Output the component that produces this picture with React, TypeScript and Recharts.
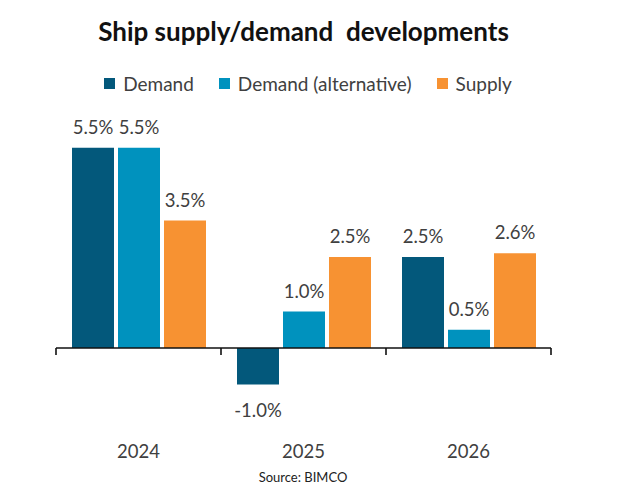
import { BarChart, Bar, XAxis, YAxis, ReferenceLine, LabelList } from "recharts";

const years = ["2024", "2025", "2026"];
const demand = [5.5, -1.0, 2.5];
const demandAlt = [5.5, 1.0, 0.5];
const supply = [3.5, 2.5, 2.6];

const seriesNames = ["Demand", "Demand (alternative)", "Supply"];
const colors = ["#03587B", "#0092BE", "#F79232"];

const data = years.map((year, i) => ({
  year,
  demand: demand[i],
  demandAlt: demandAlt[i],
  supply: supply[i],
}));

const FONT = "Lato, 'Noto Sans', sans-serif";
const TEXT = "#404040";

function BarLabel(props: any) {
  const x = Number(props.x);
  const y = Number(props.y);
  const width = Number(props.width);
  const height = Number(props.height);
  const value = Number(props.value);
  const top = Math.min(y, y + height);
  const bottom = Math.max(y, y + height);
  const cy = value >= 0 ? top - 21 : bottom + 26;
  return (
    <text
      x={x + width / 2}
      y={cy}
      textAnchor="middle"
      dominantBaseline="central"
      fill={TEXT}
      fontSize={18.5}
      fontFamily={FONT}
    >
      {value.toFixed(1)}%
    </text>
  );
}

export default function App() {
  const tickLen = -0.19;
  return (
    <div style={{ position: "absolute", left: 0, top: 0, width: 625, height: 498, background: "#fff", fontFamily: FONT }}>
      <div
        style={{
          position: "absolute",
          left: 0,
          width: 607,
          top: 15,
          textAlign: "center",
          fontWeight: 700,
          fontSize: 26,
          color: "#111",
        }}
      >
        Ship supply/demand&nbsp; developments
      </div>

      <div
        style={{
          position: "absolute",
          left: 0,
          width: 616,
          top: 72,
          display: "flex",
          justifyContent: "center",
          gap: 25,
          fontSize: 19,
          color: TEXT,
        }}
      >
        {seriesNames.map((name, i) => (
          <div key={name} style={{ display: "flex", alignItems: "center" }}>
            <span style={{ width: 11, height: 11, background: colors[i], marginRight: 8, display: "inline-block" }} />
            <span>{name}</span>
          </div>
        ))}
      </div>

      <BarChart
        width={625}
        height={498}
        data={data}
        margin={{ top: 129.5, right: 74, bottom: 35.4, left: 56 }}
        barCategoryGap={16}
        barGap={4}
      >
        <XAxis
          dataKey="year"
          axisLine={false}
          tickLine={false}
          height={60}
          tickMargin={36}
          tick={{ fill: TEXT, fontSize: 18.5, fontFamily: FONT }}
        />
        <YAxis hide domain={[-1.5, 6]} />
        <Bar dataKey="demand" name={seriesNames[0]} fill={colors[0]} isAnimationActive={false}>
          <LabelList dataKey="demand" content={BarLabel} />
        </Bar>
        <Bar dataKey="demandAlt" name={seriesNames[1]} fill={colors[1]} isAnimationActive={false}>
          <LabelList dataKey="demandAlt" content={BarLabel} />
        </Bar>
        <Bar dataKey="supply" name={seriesNames[2]} fill={colors[2]} isAnimationActive={false}>
          <LabelList dataKey="supply" content={BarLabel} />
        </Bar>
        <ReferenceLine y={0} stroke="#111" strokeWidth={1.6} />
        {years.map((yr) => (
          <ReferenceLine
            key={yr}
            position="start"
            segment={[
              { x: yr, y: 0 },
              { x: yr, y: tickLen },
            ]}
            stroke="#111"
            strokeWidth={1.6}
          />
        ))}
        <ReferenceLine
          position="end"
          segment={[
            { x: years[years.length - 1], y: 0 },
            { x: years[years.length - 1], y: tickLen },
          ]}
          stroke="#111"
          strokeWidth={1.6}
        />
      </BarChart>

      <div
        style={{
          position: "absolute",
          left: 0,
          width: 606,
          top: 469,
          textAlign: "center",
          fontSize: 13,
          color: "#222",
        }}
      >
        Source: BIMCO
      </div>
    </div>
  );
}
